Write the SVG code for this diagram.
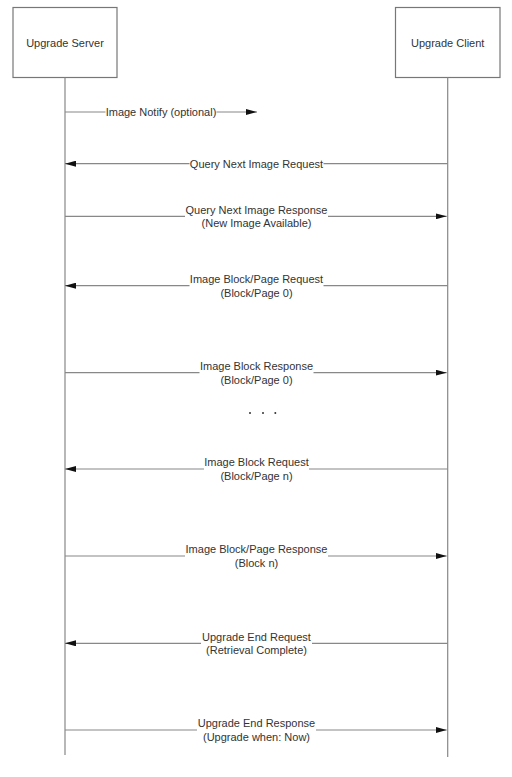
<svg xmlns="http://www.w3.org/2000/svg" width="512" height="777" viewBox="0 0 512 777">
<defs>
<marker id="ah" viewBox="0 0 11 6" refX="11" refY="3" markerWidth="11" markerHeight="6" markerUnits="userSpaceOnUse" orient="auto">
<path d="M0,0 L11,3 L0,6 Z" fill="#111"/>
</marker>
</defs>
<style>
.box{fill:#fff;stroke:#777;stroke-width:1.2}
.life{stroke:#888;stroke-width:1.2;fill:none}
.msg{stroke:#888;stroke-width:1.2;fill:none;marker-end:url(#ah)}
.bg{fill:#fff}
text{font-family:"Liberation Sans",Arial,sans-serif;font-size:11px;fill:#333;text-anchor:middle}
</style>
<rect width="512" height="777" fill="#fff"/>
<g id="server">
<rect class="box" x="13" y="7.5" width="104" height="70"/>
<text x="65" y="46.5">Upgrade Server</text>
<line class="life" x1="65" y1="77.5" x2="65" y2="755"/>
</g>
<g id="client">
<rect class="box" x="395.5" y="7.5" width="104.5" height="70"/>
<text x="447.7" y="46.5">Upgrade Client</text>
<line class="life" x1="447.7" y1="77.5" x2="447.7" y2="757"/>
</g>
<g id="connectors">
<line class="msg" x1="65" y1="112" x2="257" y2="112"/>
<line class="msg" x1="447.7" y1="163.7" x2="65" y2="163.7"/>
<line class="msg" x1="65" y1="216.3" x2="446.7" y2="216.3"/>
<line class="msg" x1="447.7" y1="285.7" x2="65" y2="285.7"/>
<line class="msg" x1="65" y1="372.7" x2="446.7" y2="372.7"/>
<line class="msg" x1="447.7" y1="469" x2="65" y2="469"/>
<line class="msg" x1="65" y1="556" x2="446.7" y2="556"/>
<line class="msg" x1="447.7" y1="643.3" x2="65" y2="643.3"/>
<line class="msg" x1="65" y1="730" x2="446.7" y2="730"/>
</g>
<g id="labels">
<rect class="bg" x="105.5" y="105" width="111" height="14"/>
<text x="161" y="116">Image Notify (optional)</text>
<rect class="bg" x="189.5" y="157" width="134" height="14"/>
<text x="256.5" y="167.5">Query Next Image Request</text>
<rect class="bg" x="185" y="203" width="143" height="27"/>
<text x="256.5" y="214">Query Next Image Response</text>
<text x="256.5" y="227">(New Image Available)</text>
<rect class="bg" x="189.5" y="272" width="134" height="27"/>
<text x="256.5" y="283">Image Block/Page Request</text>
<text x="256.5" y="296.5">(Block/Page 0)</text>
<rect class="bg" x="199.5" y="359" width="114" height="27"/>
<text x="256.5" y="369.5">Image Block Response</text>
<text x="256.5" y="383.5">(Block/Page 0)</text>
<rect class="bg" x="204" y="455.5" width="105" height="27"/>
<text x="256.5" y="466">Image Block Request</text>
<text x="256.5" y="479.5">(Block/Page n)</text>
<rect class="bg" x="185" y="542.5" width="143" height="27"/>
<text x="256.5" y="553">Image Block/Page Response</text>
<text x="256.5" y="567">(Block n)</text>
<rect class="bg" x="201" y="630" width="111" height="27"/>
<text x="256.5" y="640.5">Upgrade End Request</text>
<text x="256.5" y="653.5">(Retrieval Complete)</text>
<rect class="bg" x="197" y="716.5" width="119" height="27"/>
<text x="256.5" y="727">Upgrade End Response</text>
<text x="256.5" y="740.5">(Upgrade when: Now)</text>
</g>
<g id="ellipsis" fill="#333">
<circle cx="250" cy="413" r="1"/>
<circle cx="263" cy="413" r="1"/>
<circle cx="275.3" cy="413" r="1"/>
</g>
</svg>
